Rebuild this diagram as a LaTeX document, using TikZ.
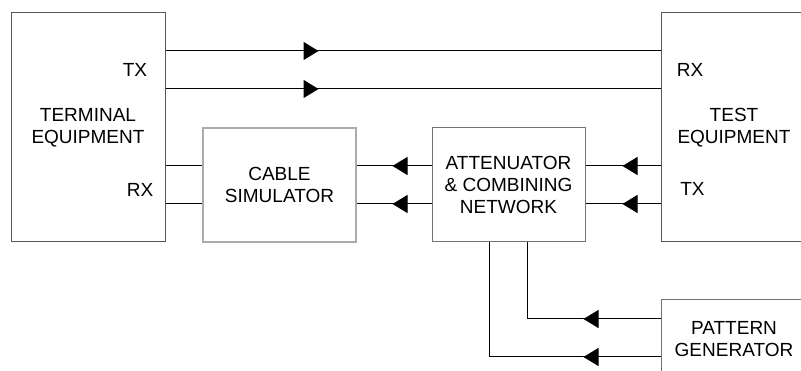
\documentclass[tikz,border=0pt]{standalone}
\usepackage{fontspec}
\setmainfont{Liberation Sans}
\usetikzlibrary{arrows.meta,decorations.markings}

\begin{document}
\begin{tikzpicture}
            [x=1pt, y=-1pt, line width=1pt,
             blockbox/.style={shape=rectangle, draw=#1, align=center, inner sep=0pt,
                              font=\fontsize{19}{22}\selectfont},
             tag/.style={inner sep=0pt, font=\fontsize{19}{22}\selectfont},
             sig/.style={draw=black, postaction={decorate},
                         decoration={markings, mark=at position #1 with {\arrow{Triangle[length=15pt,width=18pt]}}}}]
            \useasboundingbox (0,0) rectangle (801,371);
            \node[blockbox=black!65, minimum width=154pt, minimum height=229pt] (term) at (88,127.5) {TERMINAL\\EQUIPMENT};
            \node[blockbox=black!65, minimum width=146pt, minimum height=229pt] (test) at (734,127.5) {TEST\\EQUIPMENT};
            \node[blockbox=black!33, line width=1.5pt, minimum width=153pt, minimum height=114pt] (cable) at (279.5,185) {CABLE\\SIMULATOR};
            \node[blockbox=black!55, minimum width=153pt, minimum height=114pt] (atten) at (508.5,185) {ATTENUATOR\\\& COMBINING\\NETWORK};
            \node[blockbox=black!55, minimum width=146pt, minimum height=79pt] (pattern) at (734,339.5) {PATTERN\\GENERATOR};
            \node[tag] (termtx) at (135,70) {TX};
            \node[tag] (termrx) at (140,190) {RX};
            \node[tag] (testrx) at (690,70) {RX};
            \node[tag] (testtx) at (692.5,189) {TX};

            \draw [sig=153pt] (term.east |- 0,51) -- (test.west |- 0,51);
            \draw [sig=153pt] (term.east |- 0,89) -- (test.west |- 0,89);
            \draw (term.east |- 0,166) -- (cable.west |- 0,166);
            \draw (term.east |- 0,204) -- (cable.west |- 0,204);
            \draw [sig=39pt] (atten.west |- 0,166) -- (cable.east |- 0,166);
            \draw [sig=39pt] (atten.west |- 0,204) -- (cable.east |- 0,204);
            \draw [sig=38pt] (test.west |- 0,166) -- (atten.east |- 0,166);
            \draw [sig=38pt] (test.west |- 0,204) -- (atten.east |- 0,204);
            \draw [sig=77pt] (pattern.west |- 0,319) -- (527,319) -- (atten.south -| 527,0);
            \draw [sig=77pt] (pattern.west |- 0,357) -- (489,357) -- (atten.south -| 489,0);
        \end{tikzpicture}
\end{document}
